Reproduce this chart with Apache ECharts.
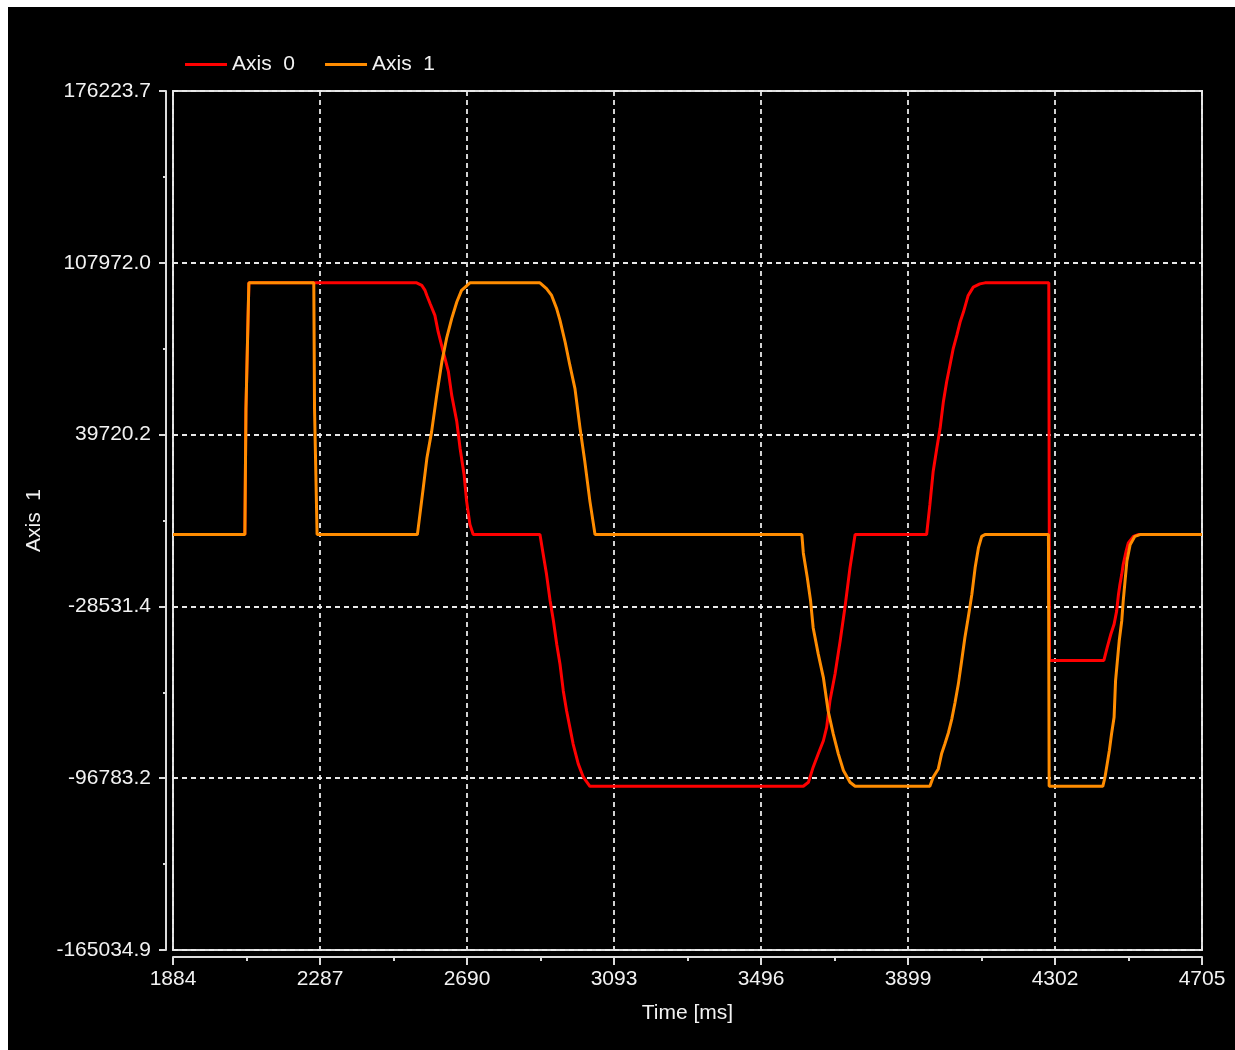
<!DOCTYPE html>
<html>
<head>
<meta charset="utf-8">
<script src="https://cdn.jsdelivr.net/npm/echarts@6/dist/echarts.min.js"></script>
<style>
  html, body { margin: 0; padding: 0; background: #ffffff; }
  #wrap { position: relative; width: 1235px; height: 1050px; background: #ffffff; overflow: hidden; }
  #chart { position: absolute; left: 8px; top: 7px; width: 1227px; height: 1043px; background: #000000; }
</style>
</head>
<body>
<div id="wrap"><div id="chart"></div></div>
<script>
// ---- data (time in ms, position values) ----
const seriesNames = ['Axis  0', 'Axis  1'];
const xTickLabels = ['1884', '2287', '2690', '3093', '3496', '3899', '4302', '4705'];
const yTickLabels = ['-165034.9', '-96783.2', '-28531.4', '39720.2', '107972.0', '176223.7'];

const axis0Time = [1884, 2081, 2084, 2092, 2552, 2566, 2575, 2580, 2589, 2602, 2611, 2625, 2639, 2648, 2662, 2671, 2682, 2689, 2698, 2707,
  2890, 2899, 2908, 2918, 2927, 2936, 2945, 2954, 2963, 2972, 2981, 2995, 3009, 3027,
  3612, 3626, 3639, 3653, 3667, 3676, 3685, 3699, 3713, 3726, 3740, 3754,
  3950, 3959, 3968, 3978, 3987, 3996, 4005, 4014, 4023, 4033, 4042, 4051, 4064, 4078, 4096, 4110,
  4285, 4287, 4436, 4445, 4455, 4464, 4471, 4476, 4480, 4485, 4489, 4497, 4503, 4517, 4530, 4705];
const axis0Value = [0, 0, 50000, 100000, 100000, 99000, 97000, 95000, 91700, 87100, 80500, 72600, 64700, 55400, 44900, 34300, 23800, 13200, 4000, 0,
  0, -7900, -15800, -26400, -34300, -43600, -51500, -62100, -70000, -76600, -83200, -91100, -96400, -100000,
  -100000, -98400, -92400, -87100, -81900, -76600, -66000, -55400, -42300, -29100, -13200, 0,
  0, 11900, 25100, 34300, 42200, 52800, 60700, 67300, 73900, 79200, 84500, 88400, 95000, 98300, 99600, 100000,
  100000, -50000, -50000, -44900, -39600, -35600, -30400, -23800, -19800, -15800, -11900, -6600, -3300, -700, 0, 0];

const axis1Time = [1884, 2081, 2084, 2092, 2270, 2272, 2279, 2554, 2570, 2580, 2593, 2607, 2621, 2634, 2648, 2662, 2675, 2698,
  2890, 2908, 2922, 2936, 2945, 2959, 2972, 2986, 3000, 3013, 3027, 3041,
  3608, 3612, 3623, 3632, 3639, 3653, 3667, 3680, 3694, 3708, 3722, 3740, 3754,
  3959, 3968, 3982, 3991, 4000, 4010, 4019, 4028, 4037, 4046, 4055, 4064, 4074, 4083, 4092, 4101, 4110,
  4284, 4286, 4433, 4439, 4445, 4451, 4457, 4464, 4468, 4473, 4478, 4485, 4489, 4494, 4499, 4508, 4521, 4535, 4705];
const axis1Value = [0, 0, 50000, 100000, 100000, 50000, 0, 0, 18450, 30300, 40900, 55400, 68600, 77900, 85800, 92400, 97000, 100000,
  100000, 97700, 95000, 89700, 85100, 76500, 67300, 58000, 42200, 29000, 13200, 0,
  0, -7300, -17200, -26400, -37000, -47500, -56800, -70000, -79200, -87100, -93700, -98400, -100000,
  -100000, -96400, -93100, -87100, -83200, -78600, -73300, -66700, -59400, -50200, -40900, -33000, -23800, -13200, -5300, -700, 0,
  0, -100000, -100000, -96400, -91100, -85800, -79200, -72600, -58100, -50200, -42300, -34300, -26400, -18500, -10600, -4000, -700, 0, 0];

const seriesColors = ['#ff0000', '#ff8c00'];

// ---- chart ----
const xMin = Number(xTickLabels[0]);
const xMax = Number(xTickLabels[xTickLabels.length - 1]);
const yMin = Number(yTickLabels[0]);
const yMax = Number(yTickLabels[yTickLabels.length - 1]);
const xInterval = (xMax - xMin) / (xTickLabels.length - 1);
const yInterval = (yMax - yMin) / (yTickLabels.length - 1);

function pairs(t, v) { return t.map((x, i) => [x, v[i]]); }
function nearestLabel(labels, v) {
  let best = labels[0], d = Infinity;
  labels.forEach(l => { const dd = Math.abs(Number(l) - v); if (dd < d) { d = dd; best = l; } });
  return best;
}

const FONT = 'Liberation Sans, Arial, sans-serif';
const TXT = '#f2f2f2';
const LINE = '#dcdcdc';

const chart = echarts.init(document.getElementById('chart'), null, { renderer: 'canvas' });
chart.setOption({
  backgroundColor: '#000000',
  animation: false,
  legend: {
    left: 172, top: 42,
    icon: 'rect',
    itemWidth: 42, itemHeight: 3, itemGap: 30,
    textStyle: { color: TXT, fontSize: 21, fontFamily: FONT },
    data: seriesNames
  },
  grid: {
    left: 165, right: 33, top: 84, bottom: 100,
    show: true, borderColor: LINE, borderWidth: 2, backgroundColor: 'transparent'
  },
  xAxis: {
    type: 'value',
    min: xMin, max: xMax, interval: xInterval,
    offset: 7,
    name: 'Time [ms]', nameLocation: 'middle', nameGap: 46,
    nameTextStyle: { color: TXT, fontSize: 21, fontFamily: FONT },
    axisLine: { show: true, onZero: false, lineStyle: { color: LINE, width: 2 } },
    axisTick: { show: true, length: 8, lineStyle: { color: LINE, width: 2 } },
    minorTick: { show: true, splitNumber: 2, length: 4, lineStyle: { color: LINE, width: 2 } },
    axisLabel: { color: TXT, fontSize: 21, fontFamily: FONT, margin: 12,
      formatter: v => nearestLabel(xTickLabels, v) },
    splitLine: { show: true, lineStyle: { color: '#e8e8e8', width: 1.8, type: [5, 4] } }
  },
  yAxis: {
    type: 'value',
    min: yMin, max: yMax, interval: yInterval,
    offset: 7,
    name: 'Axis  1', nameLocation: 'middle', nameGap: 121, nameRotate: 90,
    nameTextStyle: { color: TXT, fontSize: 21, fontFamily: FONT },
    axisLine: { show: true, onZero: false, lineStyle: { color: LINE, width: 2 } },
    axisTick: { show: true, length: 7, lineStyle: { color: LINE, width: 2 } },
    minorTick: { show: true, splitNumber: 2, length: 3, lineStyle: { color: LINE, width: 2 } },
    axisLabel: { color: TXT, fontSize: 21, fontFamily: FONT, margin: 15,
      formatter: v => nearestLabel(yTickLabels, v) },
    splitLine: { show: true, lineStyle: { color: '#e8e8e8', width: 1.8, type: [5, 4] } }
  },
  series: [
    { name: seriesNames[0], type: 'line', data: pairs(axis0Time, axis0Value),
      symbol: 'none', showSymbol: false, color: seriesColors[0],
      lineStyle: { color: seriesColors[0], width: 3 }, z: 2 },
    { name: seriesNames[1], type: 'line', data: pairs(axis1Time, axis1Value),
      symbol: 'none', showSymbol: false, color: seriesColors[1],
      lineStyle: { color: seriesColors[1], width: 3 }, z: 3 }
  ]
});
</script>
</body>
</html>
